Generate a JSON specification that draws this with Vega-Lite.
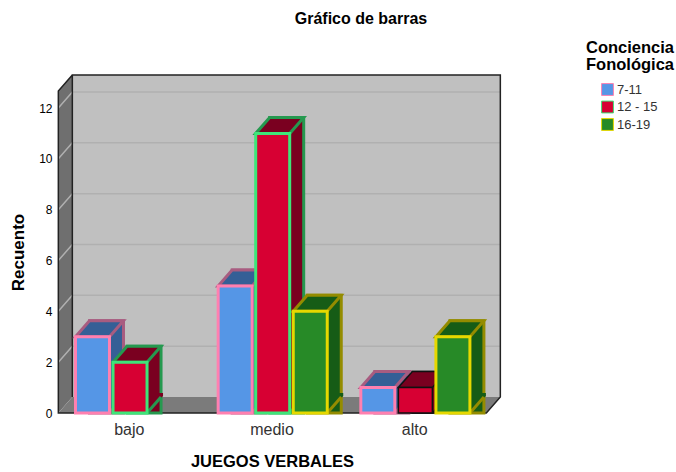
{"$schema":"https://vega.github.io/schema/vega-lite/v6.json","width":428,"height":322,"padding":{"left":58,"top":91,"right":190,"bottom":59},"autosize":{"type":"none"},"background":"white","view":{"stroke":null},"title":{"text":"Gráfico de barras","anchor":"middle","dx":89,"offset":13,"font":"Liberation Sans","fontSize":16,"fontWeight":"bold","color":"#000"},"datasets":{"bars":[{"juegos":"bajo","serie":"7-11","recuento":3},{"juegos":"bajo","serie":"12 - 15","recuento":2},{"juegos":"medio","serie":"7-11","recuento":5},{"juegos":"medio","serie":"12 - 15","recuento":11},{"juegos":"medio","serie":"16-19","recuento":4},{"juegos":"alto","serie":"7-11","recuento":1},{"juegos":"alto","serie":"12 - 15","recuento":1},{"juegos":"alto","serie":"16-19","recuento":3}],"ticks":[{"t":0},{"t":2},{"t":4},{"t":6},{"t":8},{"t":10},{"t":12}],"anchor":[{"juegos":"bajo","t":0}]},"layer":[{"data":{"name":"anchor"},"mark":{"type":"point","filled":true,"size":4,"opacity":1,"fill":"#c0c0c0","strokeWidth":0,"shape":"M-57,-338L371,-338L371,-16L-57,-16Z"},"encoding":{"x":{"field":"juegos","type":"nominal","scale":{"type":"band","domain":["bajo","medio","alto"],"paddingInner":0,"paddingOuter":0},"axis":{"title":"JUEGOS VERBALES","domain":false,"ticks":false,"labelAngle":0,"labelFont":"Liberation Sans","labelFontSize":16,"labelColor":"#333","labelPadding":8,"titleFont":"Liberation Sans","titleFontSize":16.5,"titleFontWeight":"bold","titleColor":"#000","titleY":56,"titleBaseline":"bottom"}},"y":{"field":"t","type":"quantitative","scale":{"domain":[0,12.67],"nice":false,"zero":false},"axis":{"title":"Recuento","values":[0,2,4,6,8,10,12],"grid":false,"domain":false,"ticks":false,"labelFont":"Liberation Sans","labelFontSize":12,"labelColor":"#000","labelPadding":6,"titleFont":"Liberation Sans","titleFontSize":17,"titleFontWeight":"bold","titleColor":"#000","titleX":-31,"titleY":161}}}},{"data":{"name":"anchor"},"mark":{"type":"point","filled":true,"size":4,"opacity":1,"fill":"#6f6f6f","strokeWidth":0,"shape":"M-71,-322L-57,-338L-57,-16L-71,0Z"},"encoding":{"x":{"field":"juegos","type":"nominal"},"y":{"field":"t","type":"quantitative"}}},{"data":{"name":"anchor"},"mark":{"type":"point","filled":true,"size":4,"opacity":1,"fill":"#7b7b7b","strokeWidth":0,"shape":"M-71,0L-57,-16L371,-16L357,0Z"},"encoding":{"x":{"field":"juegos","type":"nominal"},"y":{"field":"t","type":"quantitative"}}},{"data":{"name":"ticks"},"transform":[{"filter":"datum.t > 0"}],"mark":{"type":"point","filled":false,"size":4,"opacity":1,"stroke":"#b0b0b0","strokeWidth":1.5,"shape":"M-71,0L-57,-16L371,-16"},"encoding":{"x":{"datum":"bajo","type":"nominal"},"y":{"field":"t","type":"quantitative"}}},{"data":{"name":"anchor"},"mark":{"type":"point","filled":false,"size":4,"opacity":1,"stroke":"#222","strokeWidth":1.5,"shape":"M-57,-16L-57,-338L371,-338L371,-16L357,0L-71,0L-71,-322L-57,-338"},"encoding":{"x":{"field":"juegos","type":"nominal"},"y":{"field":"t","type":"quantitative"}}},{"data":{"name":"bars"},"mark":{"type":"bar","width":34,"yOffset":-16,"y2Offset":-16,"strokeJoin":"miter"},"encoding":{"x":{"field":"juegos","type":"nominal"},"xOffset":{"field":"serie","type":"nominal","scale":{"type":"band","domain":["7-11","12 - 15","16-19"],"paddingInner":0,"paddingOuter":0.4,"range":[14.7,157.37]}},"y":{"field":"recuento","type":"quantitative","stack":null},"fill":{"field":"serie","type":"nominal","legend":null,"scale":{"domain":["7-11","12 - 15","16-19"],"range":["#355f96","#7a0020","#165c16"]}},"stroke":{"condition":{"test":"datum.juegos==='alto' && datum.serie==='12 - 15'","value":"#111"},"field":"serie","type":"nominal","scale":{"domain":["7-11","12 - 15","16-19"],"range":["#a85c80","#25994f","#948c00"]},"legend":null},"strokeWidth":{"condition":{"test":"datum.juegos==='alto' && datum.serie==='12 - 15'","value":1.5},"value":3}}},{"data":{"name":"bars"},"mark":{"type":"point","filled":true,"size":4,"opacity":1,"strokeWidth":0,"shape":"M16,1L33,-17L33,-20L16,-20Z"},"encoding":{"x":{"field":"juegos","type":"nominal"},"xOffset":{"field":"serie","type":"nominal","scale":{"type":"band","domain":["7-11","12 - 15","16-19"],"paddingInner":0,"paddingOuter":0.4,"range":[0.7,143.37]}},"y":{"datum":0,"type":"quantitative"},"fill":{"field":"serie","type":"nominal","legend":null,"scale":{"domain":["7-11","12 - 15","16-19"],"range":["#355f96","#7a0020","#165c16"]}}}},{"data":{"name":"bars"},"mark":{"type":"point","filled":false,"size":4,"opacity":1,"shape":"M17,0L31,-16"},"encoding":{"x":{"field":"juegos","type":"nominal"},"xOffset":{"field":"serie","type":"nominal","scale":{"type":"band","domain":["7-11","12 - 15","16-19"],"paddingInner":0,"paddingOuter":0.4,"range":[0.7,143.37]}},"y":{"datum":0,"type":"quantitative"},"stroke":{"condition":{"test":"datum.juegos==='alto' && datum.serie==='12 - 15'","value":"#111"},"field":"serie","type":"nominal","scale":{"domain":["7-11","12 - 15","16-19"],"range":["#a85c80","#25994f","#948c00"]},"legend":null},"strokeWidth":{"condition":{"test":"datum.juegos==='alto' && datum.serie==='12 - 15'","value":1.5},"value":3}}},{"data":{"name":"bars"},"mark":{"type":"point","filled":true,"size":4,"opacity":1,"strokeJoin":"miter","shape":"M-17,0L17,0L31,-16L-3,-16Z"},"encoding":{"x":{"field":"juegos","type":"nominal"},"xOffset":{"field":"serie","type":"nominal","scale":{"type":"band","domain":["7-11","12 - 15","16-19"],"paddingInner":0,"paddingOuter":0.4,"range":[0.7,143.37]}},"y":{"field":"recuento","type":"quantitative"},"fill":{"field":"serie","type":"nominal","legend":null,"scale":{"domain":["7-11","12 - 15","16-19"],"range":["#355f96","#7a0020","#165c16"]}},"stroke":{"condition":{"test":"datum.juegos==='alto' && datum.serie==='12 - 15'","value":"#111"},"field":"serie","type":"nominal","scale":{"domain":["7-11","12 - 15","16-19"],"range":["#a85c80","#25994f","#948c00"]},"legend":null},"strokeWidth":{"condition":{"test":"datum.juegos==='alto' && datum.serie==='12 - 15'","value":1.5},"value":3}}},{"data":{"name":"bars"},"mark":{"type":"bar","width":34,"strokeJoin":"miter"},"encoding":{"x":{"field":"juegos","type":"nominal"},"xOffset":{"field":"serie","type":"nominal","scale":{"type":"band","domain":["7-11","12 - 15","16-19"],"paddingInner":0,"paddingOuter":0.4,"range":[0.7,143.37]}},"y":{"field":"recuento","type":"quantitative","stack":null},"fill":{"field":"serie","type":"nominal","scale":{"domain":["7-11","12 - 15","16-19"],"range":["#5596e6","#d70033","#278a27"]},"legend":{"orient":"none","legendX":528,"legendY":-51,"title":["Conciencia","Fonológica"],"titleFont":"Liberation Sans","titleFontSize":16.5,"titleFontWeight":"bold","titleColor":"#000","titleLineHeight":17,"titlePadding":9,"symbolType":"square","symbolSize":140,"symbolStrokeColor":"#555","symbolStrokeWidth":1,"symbolOffset":15,"labelFont":"Liberation Sans","labelFontSize":13,"labelColor":"#333","labelOffset":3,"rowPadding":3.5,"clipHeight":14}},"stroke":{"condition":{"test":"datum.juegos==='alto' && datum.serie==='12 - 15'","value":"#111"},"field":"serie","type":"nominal","scale":{"domain":["7-11","12 - 15","16-19"],"range":["#ff80b0","#3ee579","#e6d800"]},"legend":null},"strokeWidth":{"condition":{"test":"datum.juegos==='alto' && datum.serie==='12 - 15'","value":1.5},"value":3}}}],"resolve":{"scale":{"fill":"independent","stroke":"independent","xOffset":"independent"}}}
